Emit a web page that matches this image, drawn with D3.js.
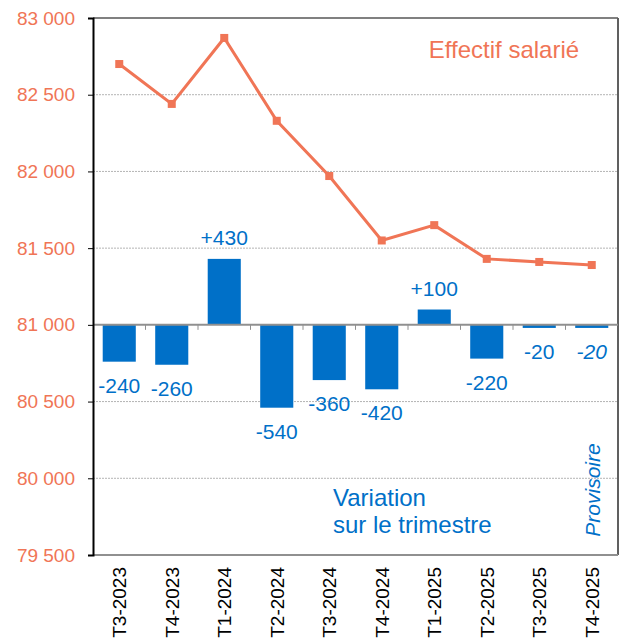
<!DOCTYPE html>
<html>
<head>
<meta charset="utf-8">
<script src="https://cdn.jsdelivr.net/npm/d3@7"></script>
<style>
  body { margin: 0; background: #fff; }
  svg { font-family: "Liberation Sans", Arial, sans-serif; }
</style>
</head>
<body>
<div id="chart"></div>
<script>
var quarters = ["T3-2023","T4-2023","T1-2024","T2-2024","T3-2024","T4-2024","T1-2025","T2-2025","T3-2025","T4-2025"];
var effectif = [82700, 82440, 82870, 82330, 81970, 81550, 81650, 81430, 81410, 81390];
var variation = [-240, -260, 430, -540, -360, -420, 100, -220, -20, -20];
var varLabels = ["-240","-260","+430","-540","-360","-420","+100","-220","-20","-20"];
var yTicks = [79500, 80000, 80500, 81000, 81500, 82000, 82500, 83000];
var base = 81000;

var W = 623, H = 643;
var pLeft = 93, pRight = 618, pTop = 18, pBottom = 555;
var orange = "#F07556", blue = "#0070C8";

var svg = d3.select("#chart").append("svg")
  .attr("width", W).attr("height", H);

var x = d3.scaleBand().domain(quarters).range([pLeft, pRight]).paddingInner(0.37).paddingOuter(0.185);
var xb = d3.scaleBand().domain(quarters).range([pLeft, pRight]);
var y = d3.scaleLinear().domain([79500, 83000]).range([pBottom, pTop]);

var fmt = d3.formatLocale({decimal: ",", thousands: " ", grouping: [3]}).format(",");

// grid
svg.append("g").selectAll("line")
  .data(yTicks.filter(function(d){ return d != base && d != 79500 && d != 83000; }))
  .enter().append("line")
  .attr("x1", pLeft).attr("x2", pRight)
  .attr("y1", function(d){ return y(d); }).attr("y2", function(d){ return y(d); })
  .attr("stroke", "#b4b4b4").attr("stroke-width", 1).attr("stroke-dasharray", "2,1");

// frame
svg.append("line").attr("x1", pLeft).attr("x2", pRight).attr("y1", pTop).attr("y2", pTop)
  .attr("stroke", "#808080").attr("stroke-width", 2);
svg.append("line").attr("x1", pRight).attr("x2", pRight).attr("y1", pTop).attr("y2", pBottom)
  .attr("stroke", "#606060").attr("stroke-width", 2);
svg.append("line").attr("x1", pLeft).attr("x2", pRight).attr("y1", pBottom).attr("y2", pBottom)
  .attr("stroke", "#909090").attr("stroke-width", 2);

// bars
svg.append("g").selectAll("rect").data(variation).enter().append("rect")
  .attr("x", function(d, i){ return x(quarters[i]); })
  .attr("width", x.bandwidth())
  .attr("y", function(d){ return y(Math.max(base, base + d)); })
  .attr("height", function(d){ return Math.abs(y(base + d) - y(base)); })
  .attr("fill", blue);

// baseline
svg.append("line").attr("x1", pLeft).attr("x2", pRight).attr("y1", y(base)).attr("y2", y(base))
  .attr("stroke", "#909090").attr("stroke-width", 2);
svg.append("g").selectAll("line").data(quarters.slice(1)).enter().append("line")
  .attr("x1", function(d){ return xb(d); }).attr("x2", function(d){ return xb(d); })
  .attr("y1", y(base)).attr("y2", y(base) + 5)
  .attr("stroke", "#909090").attr("stroke-width", 1);

// y axis
var yAxis = d3.axisLeft(y).tickValues(yTicks).tickSize(5).tickPadding(13).tickFormat(fmt);
var ga = svg.append("g").attr("transform", "translate(" + pLeft + ",0)").call(yAxis);
ga.select(".domain").attr("stroke", "#000").attr("stroke-width", 2);
ga.selectAll(".tick line").attr("stroke", "#000");
ga.selectAll(".tick text").attr("fill", orange).attr("font-size", 19)
  .attr("font-family", "Liberation Sans, Arial, sans-serif");

// x labels
svg.append("g").selectAll("text").data(quarters).enter().append("text")
  .attr("transform", function(d){ return "translate(" + (xb(d) + xb.bandwidth()/2 + 7) + "," + (pBottom + 12) + ") rotate(-90)"; })
  .attr("text-anchor", "end")
  .attr("font-size", 19).attr("fill", "#000")
  .text(function(d){ return d; });

// line
var line = d3.line()
  .x(function(d, i){ return xb(quarters[i]) + xb.bandwidth()/2; })
  .y(function(d){ return y(d); });
svg.append("path").datum(effectif).attr("d", line)
  .attr("fill", "none").attr("stroke", orange).attr("stroke-width", 3);
svg.append("g").selectAll("rect").data(effectif).enter().append("rect")
  .attr("x", function(d, i){ return xb(quarters[i]) + xb.bandwidth()/2 - 4; })
  .attr("y", function(d){ return y(d) - 4; })
  .attr("width", 8).attr("height", 8).attr("fill", orange);

// bar labels
svg.append("g").selectAll("text").data(variation).enter().append("text")
  .attr("x", function(d, i){ return xb(quarters[i]) + xb.bandwidth()/2; })
  .attr("y", function(d){ return d >= 0 ? y(base + d) - 14 : y(base + d) + 31; })
  .attr("text-anchor", "middle")
  .attr("font-size", 21).attr("fill", blue)
  .attr("font-style", function(d, i){ return i == quarters.length - 1 ? "italic" : "normal"; })
  .text(function(d, i){ return varLabels[i]; });

// annotations
svg.append("text").attr("x", 504).attr("y", 58).attr("text-anchor", "middle")
  .attr("font-size", 24).attr("fill", orange).text("Effectif salarié");
svg.append("text").attr("x", 333).attr("y", 506)
  .attr("font-size", 24).attr("fill", blue).text("Variation");
svg.append("text").attr("x", 333).attr("y", 533)
  .attr("font-size", 24).attr("fill", blue).text("sur le trimestre");
svg.append("text").attr("transform", "translate(600,490) rotate(-90)")
  .attr("text-anchor", "middle").attr("font-style", "italic")
  .attr("font-size", 21).attr("fill", blue).text("Provisoire");
</script>
</body>
</html>
